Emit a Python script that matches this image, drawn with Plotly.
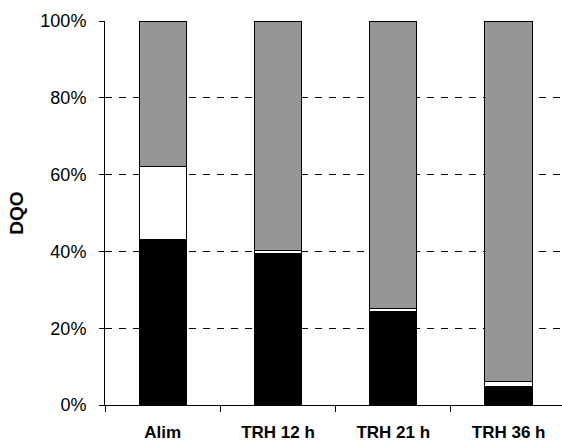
import plotly.graph_objects as go

# Categories and stacked COD fractions (% of total)
categories = ["Alim", "TRH 12 h", "TRH 21 h", "TRH 36 h"]
fraction_black = [43.2, 39.5, 24.3, 4.8]
fraction_white = [18.8, 0.8, 0.9, 1.3]
fraction_gray = [38.0, 59.7, 74.8, 93.9]
y_ticks = [0, 20, 40, 60, 80, 100]
y_tick_labels = ["0%", "20%", "40%", "60%", "80%", "100%"]

FONT = "Liberation Sans, Arial, sans-serif"

fig = go.Figure()
for vals, color in [(fraction_black, "#000000"),
                    (fraction_white, "#ffffff"),
                    (fraction_gray, "#969696")]:
    fig.add_trace(go.Bar(
        x=categories, y=vals, width=0.41,
        marker=dict(color=color, line=dict(color="#000000", width=1)),
        showlegend=False, hoverinfo="skip",
    ))

fig.update_layout(
    barmode="stack",
    width=562, height=443,
    margin=dict(l=105, r=0, t=21, b=38),
    paper_bgcolor="white", plot_bgcolor="white",
    font=dict(family=FONT, size=18, color="black"),
)
fig.update_xaxes(
    type="category", range=[-0.5, 3.463], automargin=False,
    tickson="boundaries", ticks="outside", ticklen=6, tickcolor="black",
    showline=True, linecolor="black", linewidth=1,
    showgrid=False,
    tickfont=dict(family=FONT, size=17, color="black", weight="bold"),
    ticklabelstandoff=12,
)
fig.update_yaxes(
    range=[0, 100], tickvals=y_ticks, ticktext=y_tick_labels, automargin=False,
    ticks="outside", ticklen=5, tickcolor="black",
    showline=True, linecolor="black", linewidth=1,
    showgrid=True, gridcolor="black", gridwidth=1, griddash="7px,7px",
    zeroline=False,
    tickfont=dict(family=FONT, size=18, color="black"),
    ticklabelstandoff=9,
    title=dict(text="DQO", font=dict(family=FONT, size=19, color="black", weight="bold"), standoff=11),
)

fig.write_html("out.html")
